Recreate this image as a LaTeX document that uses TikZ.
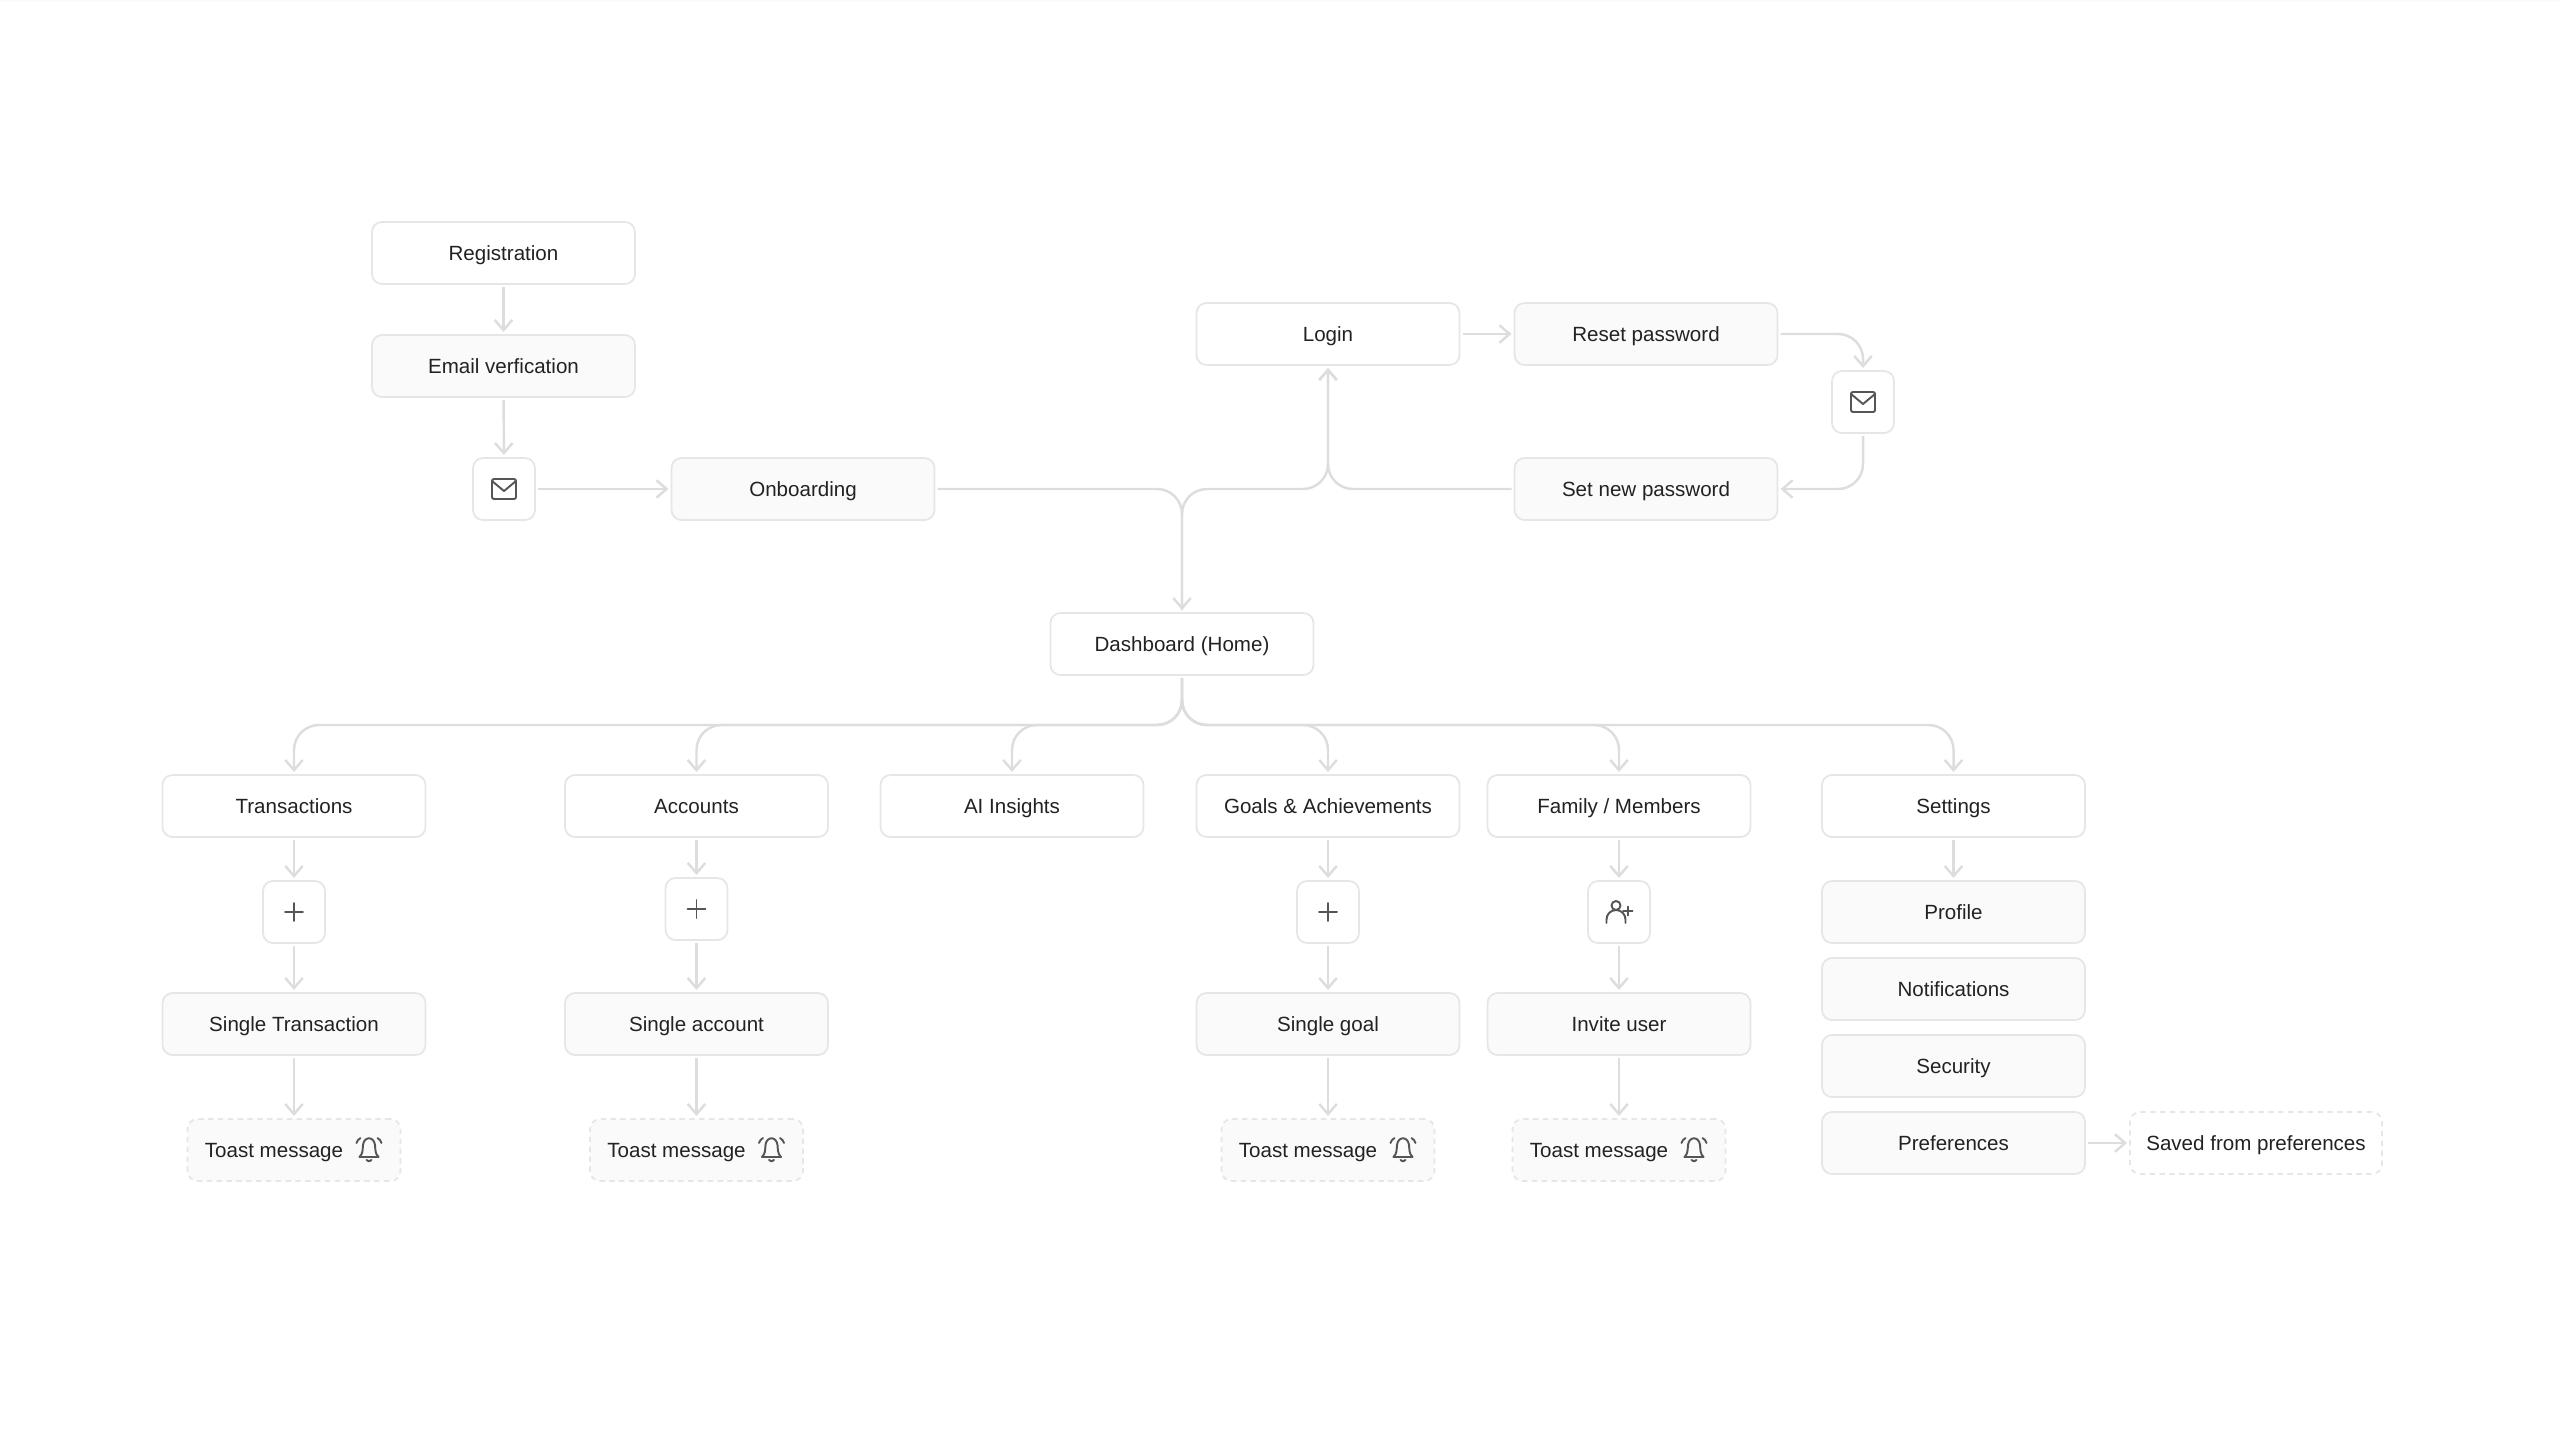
\documentclass[tikz,border=0pt]{standalone}
\usepackage{fontspec}
\setmainfont{Liberation Sans}
\usetikzlibrary{arrows.meta,calc,positioning}
\definecolor{linegray}{HTML}{DDDDDD}
\definecolor{boxgray}{HTML}{E6E6E6}
\definecolor{panelgray}{HTML}{FAFAFA}
\definecolor{icongray}{HTML}{555555}
\definecolor{textgray}{HTML}{222222}
\tikzset{
  screen/.style={draw=boxgray,line width=0.5pt,rounded corners=0.1cm,fill=white,minimum width=2.63cm,minimum height=0.62cm,outer sep=0.03cm,inner sep=0pt,text=textgray,text height=0.2cm,text depth=0.05cm,font=\fontsize{5.85}{7}\selectfont},
  subscreen/.style={screen,fill=panelgray},
  iconbox/.style={screen,minimum width=0.62cm},
  toastbox/.style={subscreen,dash pattern=on 1.5pt off 1.3pt,minimum width=2.13cm},
  savedbox/.style={screen,dash pattern=on 1.5pt off 1.3pt,minimum width=2.52cm},
  link/.style={draw=linegray,line width=0.7pt,-{Straight Barb[length=2.9pt,width=5pt]}},
  curved/.style={link,rounded corners=0.25cm},
  icon/.style={draw=icongray,line width=0.55pt,line cap=round,line join=round},
  mailicon/.pic={
    \draw[icon,rounded corners=0.02cm] (-0.12,-0.1) rectangle (0.12,0.1);
    \draw[icon] (-0.12,0.08) -- (0,-0.02) -- (0.12,0.08);
  },
  plusicon/.pic={
    \draw[icon] (-0.09,0) -- (0.09,0) (0,-0.09) -- (0,0.09);
  },
  usericon/.pic={
    \draw[icon] (-0.03,0.065) circle (0.045);
    \draw[icon] (-0.125,-0.11) -- (-0.125,-0.075) arc (180:0:0.095) -- (0.065,-0.11);
    \draw[icon] (0.04,0.01) -- (0.135,0.01) (0.0875,-0.035) -- (0.0875,0.055);
  },
  bellicon/.pic={
    \draw[icon] (-0.095,-0.07) .. controls (-0.06,-0.035) and (-0.065,0) .. (-0.06,0.05) .. controls (-0.05,0.14) and (0.05,0.14) .. (0.06,0.05) .. controls (0.065,0) and (0.06,-0.035) .. (0.095,-0.07) -- cycle;
    \draw[icon] (-0.025,-0.1) .. controls (-0.01,-0.118) and (0.01,-0.118) .. (0.025,-0.1);
    \draw[icon] (-0.125,0.07) .. controls (-0.12,0.09) and (-0.105,0.11) .. (-0.085,0.12);
    \draw[icon] (0.125,0.07) .. controls (0.12,0.09) and (0.105,0.11) .. (0.085,0.12);
  },
}
\begin{document}
\begin{tikzpicture}
  \useasboundingbox (0,0) rectangle (25.6,-14.4);
  \fill[panelgray] (0,0) rectangle (25.6,-0.02);
  % entry screens
  \node[screen] (registration) at (5.035,-2.53) {Registration};
  \node[subscreen] (email) at (5.035,-3.66) {Email verfication};
  \node[iconbox] (mailone) at (5.04,-4.89) {};
  \node[subscreen] (onboarding) at (8.03,-4.89) {Onboarding};
  \node[screen] (login) at (13.28,-3.34) {Login};
  \node[subscreen] (reset) at (16.46,-3.34) {Reset password};
  \node[iconbox] (mailtwo) at (18.63,-4.02) {};
  \node[subscreen] (setpw) at (16.46,-4.89) {Set new password};
  \node[screen] (dashboard) at (11.82,-6.44) {Dashboard (Home)};
  \pic at (mailone) {mailicon};
  \pic at (mailtwo) {mailicon};
  % main sections
  \node[screen] (transactions) at (2.94,-8.06) {Transactions};
  \node[screen] (accounts) at (6.965,-8.06) {Accounts};
  \node[screen] (insights) at (10.12,-8.06) {AI Insights};
  \node[screen] (goals) at (13.28,-8.06) {Goals \& Achievements};
  \node[screen] (family) at (16.19,-8.06) {Family / Members};
  \node[screen] (settings) at (19.535,-8.06) {Settings};
  % add buttons
  \node[iconbox] (addtrans) at (2.94,-9.12) {};
  \node[iconbox] (addacc) at (6.965,-9.09) {};
  \node[iconbox] (addgoal) at (13.28,-9.12) {};
  \node[iconbox] (addmember) at (16.19,-9.12) {};
  \foreach \n in {addtrans,addacc,addgoal}{\pic at (\n) {plusicon};}
  \pic at (addmember) {usericon};
  \node[subscreen] (singletrans) at (2.94,-10.24) {Single Transaction};
  \node[subscreen] (singleacc) at (6.965,-10.24) {Single account};
  \node[subscreen] (singlegoal) at (13.28,-10.24) {Single goal};
  \node[subscreen] (invite) at (16.19,-10.24) {Invite user};
  % toasts
  \foreach \n/\x in {singletrans/2.94,singleacc/6.965,singlegoal/13.28,invite/16.19}{
    \node[toastbox] (toast\n) at (\x,-11.5) {Toast message\hspace{0.4cm}\mbox{}};
    \pic at ($(toast\n)+(0.75,0)$) {bellicon};
    \draw[link] (\n) -- (toast\n);
  }
  % settings list
  \node[subscreen] (profile) at (19.535,-9.12) {Profile};
  \node[subscreen] (notifications) at (19.535,-9.89) {Notifications};
  \node[subscreen] (security) at (19.535,-10.66) {Security};
  \node[subscreen] (preferences) at (19.535,-11.43) {Preferences};
  \node[savedbox] (saved) at (22.56,-11.43) {Saved from preferences};
  % connectors
  \draw[link] (registration) -- (email);
  \draw[link] (email) -- (mailone);
  \draw[link] (mailone) -- (onboarding);
  \draw[link] (login) -- (reset);
  \draw[link] (preferences) -- (saved);
  \draw[link] (settings) -- (profile);
  \draw[link] (transactions) -- (addtrans);
  \draw[link] (addtrans) -- (singletrans);
  \draw[link] (accounts) -- (addacc);
  \draw[link] (addacc) -- (singleacc);
  \draw[link] (goals) -- (addgoal);
  \draw[link] (addgoal) -- (singlegoal);
  \draw[link] (family) -- (addmember);
  \draw[link] (addmember) -- (invite);
  \draw[curved] (reset.east) -| (mailtwo.north);
  \draw[curved] (mailtwo.south) |- (setpw.east);
  \draw[curved] (onboarding.east) -| (dashboard.north);
  \coordinate (split) at (login.south |- setpw.west);
  \draw[curved] (setpw.west) -- (split) -- (login.south);
  \draw[curved] (dashboard.north) |- (split) -- (login.south);
  \coordinate (trunk) at (11.82,-7.25);
  \foreach \n in {transactions,accounts,insights,goals,family,settings}{
    \draw[curved] (dashboard.south) -- (trunk) -| (\n.north);
  }
\end{tikzpicture}
\end{document}
